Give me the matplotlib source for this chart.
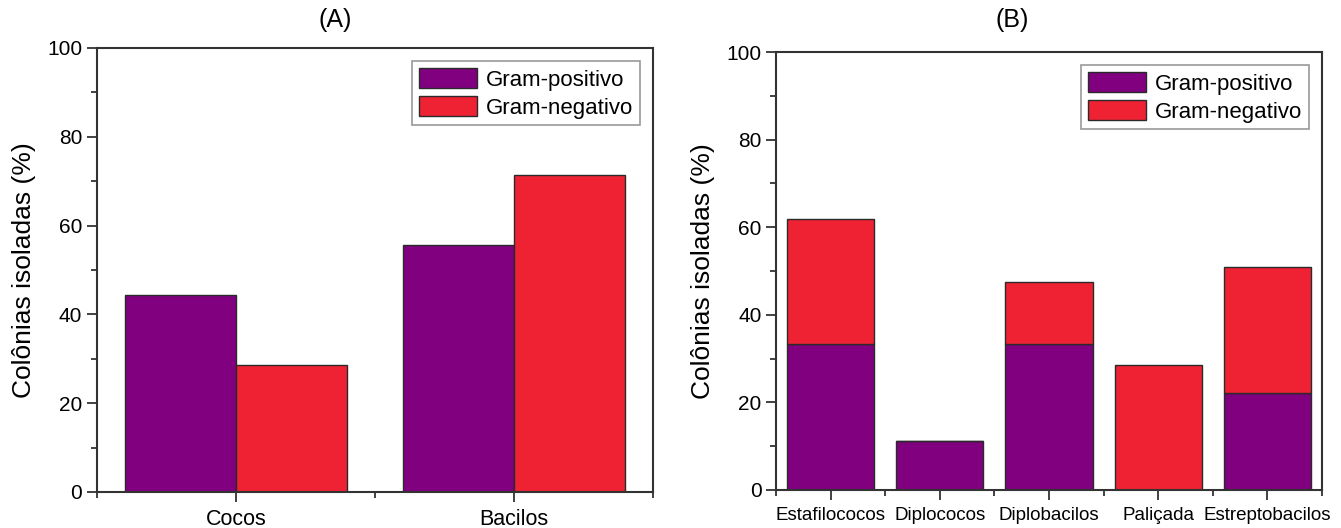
import matplotlib
matplotlib.use("Agg")
import matplotlib.pyplot as plt
import numpy as np
from matplotlib.ticker import MultipleLocator, FixedLocator

plt.rcParams['font.family'] = ['Liberation Sans', 'DejaVu Sans']

# painel A
cat_a = ['Cocos', 'Bacilos']
gp_a = [44.4, 55.6]
gn_a = [28.6, 71.4]

# painel B
cat_b = ['Estafilococos', 'Diplococos', 'Diplobacilos', 'Paliçada', 'Estreptobacilos']
gp_b = [33.3, 11.1, 33.3, 0.0, 22.2]
gn_b = [28.6, 0.0, 14.3, 28.6, 28.6]

series = ['Gram-positivo', 'Gram-negativo']
cor_gp = '#800080'
cor_gn = '#ee2232'
borda = '#2a2a2a'
eixo = '#333333'

fig = plt.figure(figsize=(13.41, 5.28), dpi=100)
ax_a = fig.add_axes([0.0723, 0.0682, 0.4147, 0.8409])
ax_b = fig.add_axes([0.5787, 0.0720, 0.4071, 0.8295])


def estilo(ax, n, xfont):
    ax.set_ylim(0, 100)
    ax.set_xlim(0.5, n + 0.5)
    ax.yaxis.set_major_locator(MultipleLocator(20))
    ax.yaxis.set_minor_locator(MultipleLocator(10))
    ax.xaxis.set_major_locator(FixedLocator(np.arange(1, n + 1)))
    ax.xaxis.set_minor_locator(FixedLocator(np.arange(0.5, n + 1, 1.0)))
    for s in ax.spines.values():
        s.set_color(eixo)
        s.set_linewidth(1.5)
    ax.tick_params(which='major', direction='out', length=7, width=1.3,
                   color=eixo, labelsize=15, top=False, right=False)
    ax.tick_params(which='minor', direction='out', length=4, width=1.3,
                   color=eixo, top=False, right=False)
    ax.tick_params(axis='x', which='major', labelsize=xfont, pad=5)
    ax.set_ylabel('Colônias isoladas (%)', fontsize=19, labelpad=8)
    leg = ax.legend(loc='upper right', fontsize=16, frameon=True, fancybox=False,
                    edgecolor='#999999', framealpha=1, borderaxespad=0.6,
                    handlelength=2.6, handleheight=1.0, handletextpad=0.4,
                    labelspacing=0.25, borderpad=0.3)
    leg.get_frame().set_linewidth(1.2)


# (A) barras agrupadas
xa = np.arange(1, len(cat_a) + 1)
w = 0.4
ax_a.bar(xa - w / 2, gp_a, w, color=cor_gp, edgecolor=borda, linewidth=1, label=series[0])
ax_a.bar(xa + w / 2, gn_a, w, color=cor_gn, edgecolor=borda, linewidth=1, label=series[1])
ax_a.set_xticks(xa)
ax_a.set_xticklabels(cat_a)
estilo(ax_a, len(cat_a), 15.5)

# (B) barras empilhadas
xb = np.arange(1, len(cat_b) + 1)
ax_b.bar(xb, gp_b, 0.8, color=cor_gp, edgecolor=borda, linewidth=1, label=series[0])
ax_b.bar(xb, gn_b, 0.8, bottom=gp_b, color=cor_gn, edgecolor=borda, linewidth=1, label=series[1])
ax_b.set_xticks(xb)
ax_b.set_xticklabels(cat_b)
estilo(ax_b, len(cat_b), 13.5)

fig.text(0.25, 0.962, '(A)', ha='center', va='center', fontsize=18)
fig.text(0.755, 0.962, '(B)', ha='center', va='center', fontsize=18)

fig.savefig('out.png', dpi=100)
